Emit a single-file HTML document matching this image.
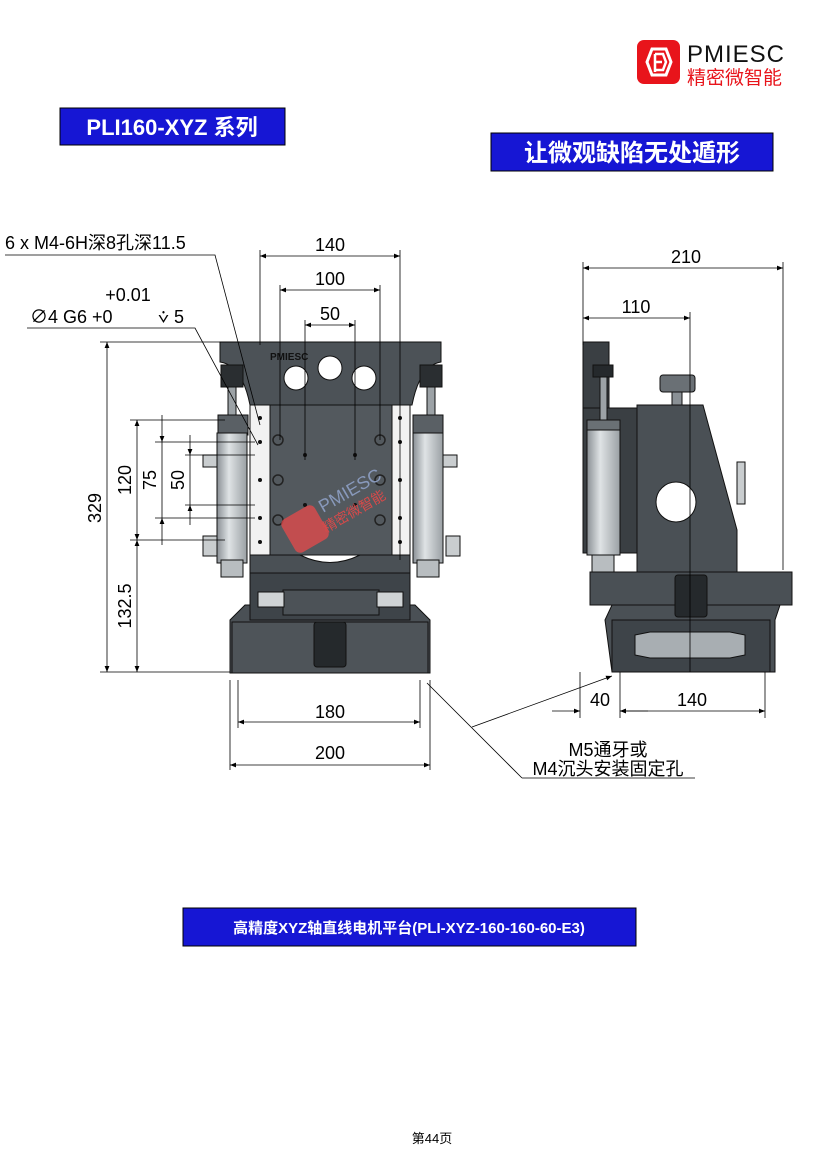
<!DOCTYPE html>
<html><head><meta charset="utf-8"><style>
html,body{margin:0;padding:0;background:#fff;}
svg{display:block;}
text{font-family:"Liberation Sans","Noto Sans CJK SC",sans-serif;}
</style></head><body>
<svg width="830" height="1174" viewBox="0 0 830 1174" xmlns="http://www.w3.org/2000/svg">
<defs>
<marker id="a" viewBox="0 0 10 10" refX="10" refY="5" markerWidth="9" markerHeight="6" orient="auto-start-reverse" markerUnits="userSpaceOnUse"><path d="M0,1 L10,5 L0,9 z" fill="#000"/></marker>
<linearGradient id="cyl" x1="0" x2="1"><stop offset="0" stop-color="#8a9095"/><stop offset="0.4" stop-color="#dfe3e5"/><stop offset="1" stop-color="#9aa0a4"/></linearGradient>
</defs>
<!-- logo -->
<rect x="637" y="40" width="43" height="44" rx="7" fill="#e8141b"/>
<path d="M647,62 L652,49 L666,49 L671,62 L666,75 L652,75 z" fill="none" stroke="#fff" stroke-width="3"/>
<path d="M655,54 L663,54 L666,62 L663,70 L655,70 M655,54 L655,72 M655,62 L662,62" fill="none" stroke="#fff" stroke-width="2.5"/>
<text x="687" y="62" font-size="24" fill="#111" letter-spacing="1">PMIESC</text>
<text x="687" y="84" font-size="19" fill="#e8141b">精密微智能</text>
<!-- banners -->
<rect x="60" y="108" width="225" height="37" fill="#1616d4" stroke="#000" stroke-width="1"/>
<text x="172" y="135" font-size="22" font-weight="bold" fill="#fff" text-anchor="middle">PLI160-XYZ 系列</text>
<rect x="491" y="133" width="282" height="38" fill="#1616d4" stroke="#000" stroke-width="1"/>
<text x="632" y="161" font-size="24" font-weight="bold" fill="#fff" text-anchor="middle">让微观缺陷无处遁形</text>
<rect x="183" y="908" width="453" height="38" fill="#1616d4" stroke="#000" stroke-width="1"/>
<text x="409" y="933" font-size="15" font-weight="bold" fill="#fff" text-anchor="middle">高精度XYZ轴直线电机平台(PLI-XYZ-160-160-60-E3)</text>
<text x="432" y="1143" font-size="13" fill="#000" text-anchor="middle">第44页</text>

<!-- LEFT VIEW -->
<g stroke="#111" stroke-width="1">
<path d="M230,620 L245,605 L415,605 L430,620 L430,673 L230,673 z" fill="#4a5055"/>
<rect x="232" y="622" width="196" height="51" fill="#4e5459"/>
<rect x="250" y="573" width="160" height="47" fill="#3e4449"/>
<rect x="283" y="590" width="96" height="25" fill="#4c5257"/>
<rect x="258" y="592" width="26" height="15" fill="#cfd3d5"/>
<rect x="377" y="592" width="26" height="15" fill="#cfd3d5"/>
<rect x="314" y="622" width="32" height="45" rx="3" fill="#25292c"/>
<rect x="250" y="553" width="160" height="20" fill="#4a5055"/>
<rect x="250" y="405" width="20" height="150" fill="#f2f2f2"/>
<rect x="392" y="405" width="18" height="150" fill="#f2f2f2"/>
<rect x="270" y="405" width="122" height="150" fill="#53595e"/>
<path d="M300,555 Q330,570 360,555 z" fill="#fff"/>
<path d="M220,342 L441,342 L441,362 Q420,365 412,405 L250,405 Q242,365 220,362 z" fill="#4c5257"/>
<circle cx="296" cy="378" r="12" fill="#fff"/>
<circle cx="330" cy="368" r="12" fill="#fff"/>
<circle cx="364" cy="378" r="12" fill="#fff"/>
<rect x="221" y="365" width="22" height="22" fill="#2a2e31"/>
<rect x="420" y="365" width="22" height="22" fill="#2a2e31"/>
<rect x="228" y="387" width="8" height="35" fill="#9ca2a6"/>
<rect x="427" y="387" width="8" height="35" fill="#9ca2a6"/>
<rect x="218" y="415" width="30" height="20" fill="#5a6065"/>
<rect x="413" y="415" width="30" height="20" fill="#5a6065"/>
<rect x="217" y="433" width="30" height="130" fill="url(#cyl)"/>
<rect x="413" y="433" width="30" height="130" fill="url(#cyl)"/>
<rect x="221" y="560" width="22" height="17" fill="#b8bdc0"/>
<rect x="417" y="560" width="22" height="17" fill="#b8bdc0"/>
<rect x="203" y="455" width="14" height="12" fill="#c9cdcf"/>
<rect x="443" y="455" width="14" height="12" fill="#c9cdcf"/>
<rect x="203" y="536" width="14" height="20" fill="#c9cdcf"/>
<rect x="446" y="536" width="14" height="20" fill="#c9cdcf"/>
</g>
<g fill="#111"><circle cx="260" cy="418" r="2"/><circle cx="260" cy="442" r="2"/><circle cx="260" cy="480" r="2"/><circle cx="260" cy="518" r="2"/><circle cx="260" cy="542" r="2"/><circle cx="400" cy="418" r="2"/><circle cx="400" cy="442" r="2"/><circle cx="400" cy="480" r="2"/><circle cx="400" cy="518" r="2"/><circle cx="400" cy="542" r="2"/><circle cx="305" cy="455" r="2"/><circle cx="355" cy="455" r="2"/><circle cx="305" cy="505" r="2"/><circle cx="355" cy="505" r="2"/></g>
<g fill="none" stroke="#222" stroke-width="1.5"><circle cx="278" cy="440" r="5"/><circle cx="380" cy="440" r="5"/><circle cx="278" cy="480" r="5"/><circle cx="380" cy="480" r="5"/><circle cx="278" cy="520" r="5"/><circle cx="380" cy="520" r="5"/></g>
<text x="270" y="360" font-size="10" font-weight="bold" fill="#111">PMIESC</text>
<g opacity="0.75"><rect x="286" y="510" width="38" height="38" rx="6" fill="#e84a4a" transform="rotate(-30 305 529)"/></g>
<text x="323" y="513" font-size="18" fill="#8899bb" transform="rotate(-30 323 513)">PMIESC</text>
<text x="326" y="533" font-size="14" fill="#d84a4a" transform="rotate(-30 326 533)">精密微智能</text>

<!-- RIGHT VIEW -->
<g stroke="#111" stroke-width="1">
<path d="M605,620 L612,605 L780,605 L775,620 L775,672 L612,672 z" fill="#4a5055"/>
<rect x="612" y="620" width="158" height="52" fill="#3e4449"/>
<path d="M635,635 L650,632 L730,632 L745,635 L745,655 L730,658 L650,658 L635,655 z" fill="#a8aeb2"/>
<rect x="590" y="572" width="202" height="33" fill="#4a5055"/>
<path d="M637,405 L703,405 L737,530 L737,572 L637,572 z" fill="#4a5055"/>
<circle cx="676" cy="502" r="20" fill="#fff"/>
<rect x="660" y="375" width="35" height="17" rx="3" fill="#6a7075"/>
<rect x="672" y="392" width="10" height="13" fill="#8a9095"/>
<rect x="737" y="462" width="8" height="42" fill="#c9cdcf"/>
<rect x="583" y="408" width="54" height="145" fill="#3a3f43"/>
<rect x="583" y="342" width="26" height="66" fill="#3a3f43"/>
<rect x="593" y="365" width="20" height="12" fill="#25292c"/>
<rect x="600" y="377" width="7" height="45" fill="#9ca2a6"/>
<rect x="587" y="420" width="33" height="10" fill="#6a7075"/>
<rect x="587" y="430" width="33" height="125" fill="url(#cyl)"/>
<rect x="592" y="555" width="22" height="17" fill="#b8bdc0"/>
<rect x="675" y="575" width="32" height="42" rx="3" fill="#25292c"/>
</g>

<!-- DIMENSIONS -->
<g stroke="#000" stroke-width="0.8" fill="none">
<path d="M260,250 L260,345 M400,250 L400,560 M280,285 L280,440 M380,285 L380,440 M305,320 L305,460 M355,320 L355,460"/>
<path d="M260,256 L400,256" marker-start="url(#a)" marker-end="url(#a)"/>
<path d="M280,290 L380,290" marker-start="url(#a)" marker-end="url(#a)"/>
<path d="M305,325 L355,325" marker-start="url(#a)" marker-end="url(#a)"/>
<path d="M100,342 L240,342 M100,672 L230,672 M130,420 L225,420 M130,540 L225,540 M155,442 L255,442 M155,518 L255,518 M185,455 L255,455 M185,505 L255,505"/>
<path d="M107,342 L107,672" marker-start="url(#a)" marker-end="url(#a)"/>
<path d="M137,420 L137,540" marker-start="url(#a)" marker-end="url(#a)"/>
<path d="M137,540 L137,672" marker-start="url(#a)" marker-end="url(#a)"/>
<path d="M162,415 L162,442" marker-end="url(#a)"/>
<path d="M162,545 L162,518" marker-end="url(#a)"/>
<path d="M190,435 L190,455" marker-end="url(#a)"/>
<path d="M190,525 L190,505" marker-end="url(#a)"/>
<path d="M162,442 L162,518 M190,455 L190,505"/>
<path d="M5,255 L215,255 L260,425 M27,328 L195,328 L258,445"/>
<path d="M238,680 L238,728 M420,680 L420,728 M230,680 L230,770 M430,680 L430,770"/>
<path d="M238,722 L420,722" marker-start="url(#a)" marker-end="url(#a)"/>
<path d="M230,765 L430,765" marker-start="url(#a)" marker-end="url(#a)"/>
<path d="M522,778 L695,778 M522,778 L427,683"/>
<path d="M472,727 L612,676" marker-end="url(#a)"/>
<path d="M583,262 L583,345 M783,262 L783,570 M690,312 L690,672 M580,672 L580,718 M620,672 L620,718 M765,672 L765,718"/>
<path d="M583,268 L783,268" marker-start="url(#a)" marker-end="url(#a)"/>
<path d="M583,318 L690,318" marker-start="url(#a)" marker-end="url(#a)"/>
<path d="M620,711 L765,711" marker-start="url(#a)" marker-end="url(#a)"/>
<path d="M552,711 L580,711" marker-end="url(#a)"/>
<path d="M648,711 L620,711" marker-end="url(#a)"/>
</g>
<g font-size="18" fill="#000" text-anchor="middle">
<text x="330" y="251">140</text>
<text x="330" y="285">100</text>
<text x="330" y="320">50</text>
<text x="5" y="249" text-anchor="start">6 x M4-6H深8孔深11.5</text>
<text x="128" y="301">+0.01</text>
<text x="30" y="323" text-anchor="start">∅4 G6 +0</text>
<text x="158" y="323" text-anchor="start">⩒ 5</text>
<text transform="translate(101,508) rotate(-90)">329</text>
<text transform="translate(131,480) rotate(-90)">120</text>
<text transform="translate(156,480) rotate(-90)">75</text>
<text transform="translate(184,480) rotate(-90)">50</text>
<text transform="translate(131,606) rotate(-90)">132.5</text>
<text x="330" y="718">180</text>
<text x="330" y="759">200</text>
<text x="608" y="756">M5通牙或</text>
<text x="608" y="775">M4沉头安装固定孔</text>
<text x="686" y="263">210</text>
<text x="636" y="313">110</text>
<text x="600" y="706">40</text>
<text x="692" y="706">140</text>
</g>
</svg>
</body></html>
